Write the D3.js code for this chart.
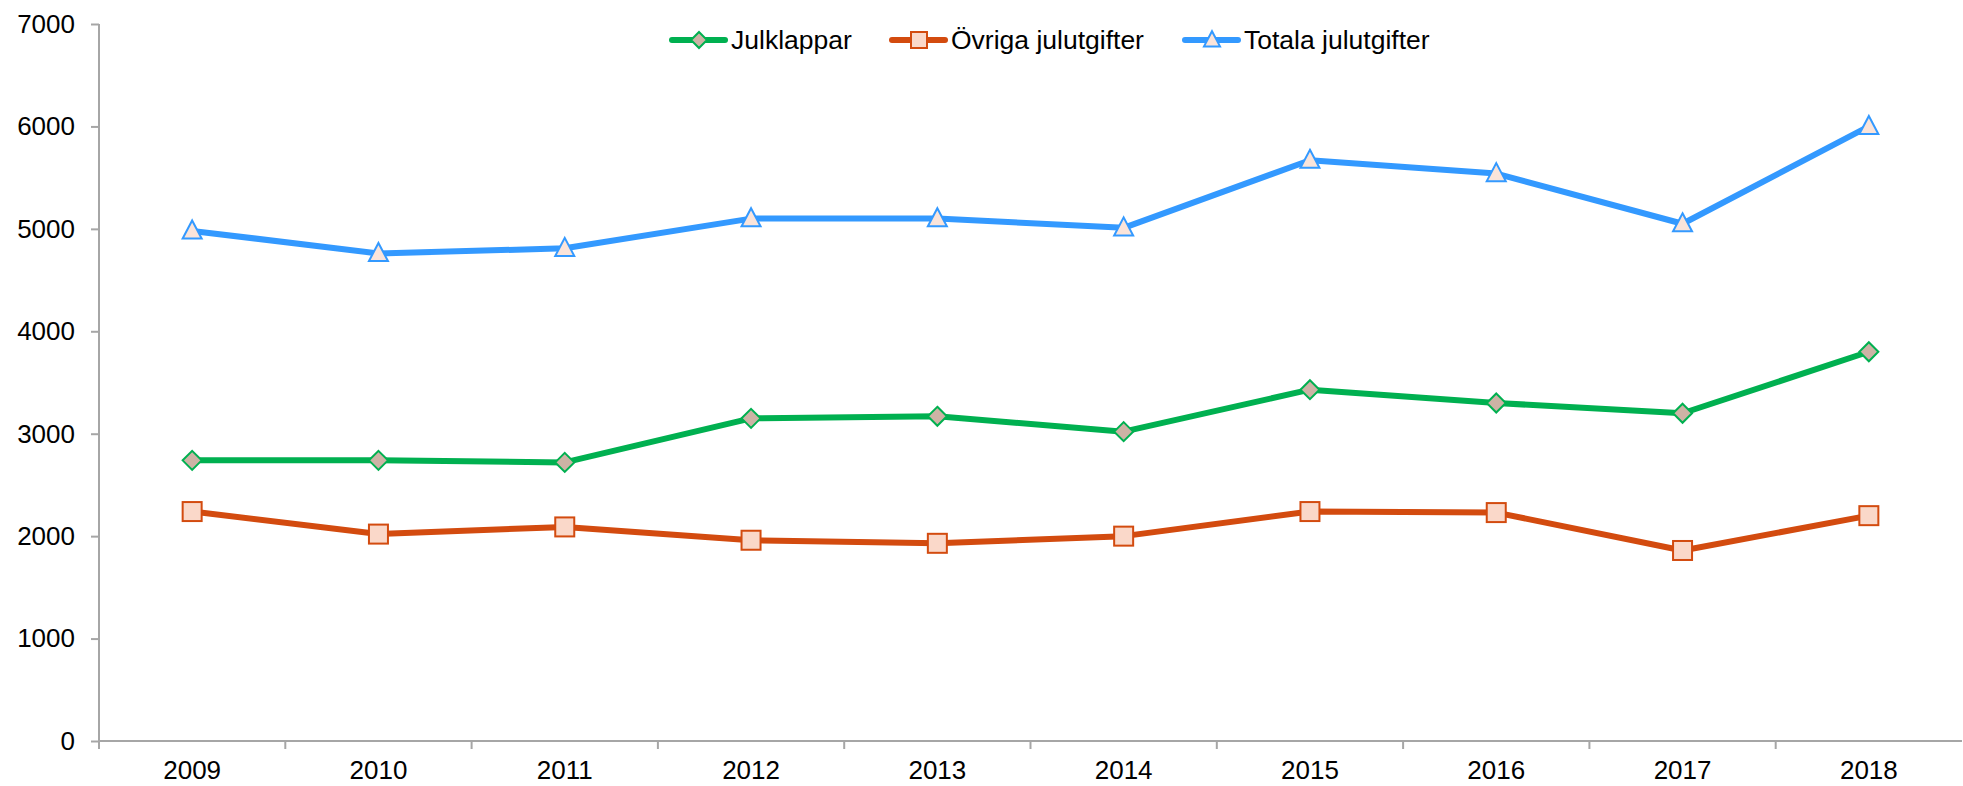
<!DOCTYPE html>
<html>
<head>
<meta charset="utf-8">
<script src="https://cdn.jsdelivr.net/npm/d3@7"></script>
<style>
  body { margin: 0; background: #fff; }
  svg { display: block; font-family: "Liberation Sans", Arial, sans-serif; }
  .axis path, .axis line { stroke: #a6a6a6; stroke-width: 2; }
  .axis text { fill: #000; font-size: 26px; }
</style>
</head>
<body>
<svg width="1963" height="786"></svg>
<script>
// chart data
const years = ["2009", "2010", "2011", "2012", "2013", "2014", "2015", "2016", "2017", "2018"];
const julklappar = [2740, 2740, 2720, 3150, 3170, 3020, 3430, 3300, 3200, 3800];
const ovriga = [2240, 2020, 2090, 1960, 1930, 2000, 2240, 2230, 1860, 2200];
const totala = [4980, 4760, 4810, 5100, 5100, 5010, 5670, 5540, 5050, 6000];
const yTicks = [0, 1000, 2000, 3000, 4000, 5000, 6000, 7000];

const series = [
  { name: "Julklappar", values: julklappar, color: "#00b050", fill: "#cdb3a5", shape: "diamond" },
  { name: "Övriga julutgifter", values: ovriga, color: "#d34b0f", fill: "#fad8c9", shape: "square" },
  { name: "Totala julutgifter", values: totala, color: "#3399ff", fill: "#fae4da", shape: "triangle" }
];

const svg = d3.select("svg");
const plotLeft = 99, plotRight = 1962, plotTop = 24, plotBottom = 741;

const x = d3.scaleBand().domain(years).range([plotLeft, plotRight]);
const y = d3.scaleLinear().domain([0, 7000]).range([plotBottom, plotTop]);

// y axis
const yAxis = svg.append("g")
  .attr("class", "axis")
  .attr("transform", "translate(" + plotLeft + ",0)")
  .call(d3.axisLeft(y).tickValues(yTicks).tickSize(8).tickPadding(16).tickFormat(d3.format("d")));
yAxis.select(".domain").attr("d", "M0," + plotTop + "V" + plotBottom);

// x axis, ticks on band boundaries
const xAxis = svg.append("g")
  .attr("class", "axis")
  .attr("transform", "translate(0," + plotBottom + ")");
xAxis.append("line").attr("x1", plotLeft).attr("x2", plotRight).attr("y1", 0).attr("y2", 0);
xAxis.selectAll(".tk")
  .data(years)
  .enter().append("line")
  .attr("class", "tk")
  .attr("x1", d => x(d)).attr("x2", d => x(d))
  .attr("y1", 0).attr("y2", 8);
xAxis.selectAll(".lbl")
  .data(years)
  .enter().append("text")
  .attr("class", "lbl")
  .attr("x", d => x(d) + x.bandwidth() / 2)
  .attr("y", 38)
  .attr("text-anchor", "middle")
  .text(d => d);

function marker(g, shape, color, fill, r) {
  if (shape == "diamond") {
    g.append("path").attr("d", "M0," + (-r) + "L" + r + ",0L0," + r + "L" + (-r) + ",0Z");
  } else if (shape == "square") {
    g.append("rect").attr("x", -r).attr("y", -r).attr("width", 2 * r).attr("height", 2 * r);
  } else {
    g.append("path").attr("d", "M0," + (-r * 1.1) + "L" + r + "," + (r * 0.8) + "L" + (-r) + "," + (r * 0.8) + "Z");
  }
  g.selectAll("*").attr("fill", fill).attr("stroke", color).attr("stroke-width", 2);
}

const line = d3.line()
  .x((d, i) => x(years[i]) + x.bandwidth() / 2)
  .y(d => y(d));

series.forEach(s => {
  const g = svg.append("g");
  g.append("path")
    .datum(s.values)
    .attr("d", line)
    .attr("fill", "none")
    .attr("stroke", s.color)
    .attr("stroke-width", 6)
    .attr("stroke-linejoin", "round");

  s.values.forEach((v, i) => {
    const m = g.append("g")
      .attr("transform", "translate(" + (x(years[i]) + x.bandwidth() / 2) + "," + y(v) + ")");
    marker(m, s.shape, s.color, s.fill, 9.5);
  });
});

// legend
const legendX = [670, 890, 1183];
series.forEach((s, i) => {
  const lg = svg.append("g").attr("transform", "translate(" + legendX[i] + ",40)");
  lg.append("line")
    .attr("x1", 2).attr("x2", 55)
    .attr("stroke", s.color).attr("stroke-width", 6).attr("stroke-linecap", "round");
  marker(lg.append("g").attr("transform", "translate(29,0)"), s.shape, s.color, s.fill, 8);
  lg.append("text")
    .attr("x", 61).attr("y", 9)
    .attr("font-size", 26.5)
    .text(s.name);
});
</script>
</body>
</html>
